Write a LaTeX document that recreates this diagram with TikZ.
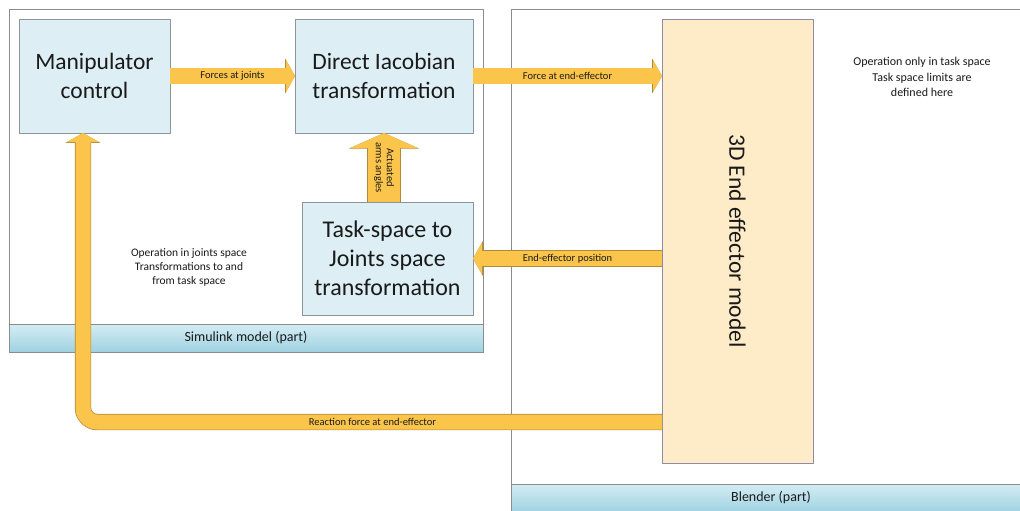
\documentclass[tikz,border=0pt]{standalone}
\usepackage{fontspec}
\setmainfont{Carlito}
\usepackage{graphicx}
\usetikzlibrary{arrows.meta}
\definecolor{mpInk}{HTML}{1A1A1A}
\definecolor{mpFrame}{HTML}{8C8C8C}
\definecolor{mpBoxFill}{HTML}{DDEFF5}
\definecolor{mpBoxLine}{HTML}{8C9599}
\definecolor{mpModelFill}{HTML}{FEECC9}
\definecolor{mpModelLine}{HTML}{8F8AA6}
\definecolor{mpArrow}{HTML}{FBC54C}
\definecolor{mpArrowEdge}{HTML}{B08A3A}
\definecolor{mpBarTop}{HTML}{D4EDF5}
\definecolor{mpBarBottom}{HTML}{9FD1E1}
\tikzset{
  mp diagram/.style={x=1pt, y=-1pt, text=mpInk, line join=round},
  mp frame/.style={draw=mpFrame, fill=white, line width=0.8pt,
    inner sep=0pt, outer sep=0pt},
  mp bar/.style={draw=mpFrame, line width=0.8pt, top color=mpBarTop,
    bottom color=mpBarBottom, inner sep=0pt, outer sep=0pt,
    font=\fontsize{14}{16}\selectfont},
  mp box/.style={draw=mpBoxLine, fill=mpBoxFill, line width=0.8pt,
    align=center, inner sep=0pt, outer sep=0pt,
    font=\fontsize{23.5}{29}\selectfont},
  mp model box/.style={mp box, draw=mpModelLine, fill=mpModelFill},
  mp arrow/.style={draw=mpArrow, line width=15pt,
    -{Triangle[length=0pt 0.6, width=0pt 2.1]},
    preaction={draw=mpArrowEdge, line width=16.4pt,
      -{Triangle[length=0pt 0.6, width=0pt 2.1]}}},
  mp wide arrow/.style={draw=mpArrow, line width=32pt,
    -{Triangle[length=0pt 0.47, width=0pt 2.1]},
    preaction={draw=mpArrowEdge, line width=33.4pt,
      -{Triangle[length=0pt 0.47, width=0pt 2.1]}}},
  mp arrow label/.style={font=\fontsize{10.5}{11}\selectfont, inner sep=0pt},
  mp note/.style={align=center, font=\fontsize{11.5}{14}\selectfont}
}
\begin{document}
\begin{tikzpicture}[mp diagram]
\clip (0,0) rectangle (1020,511);
% frames of the two programs
\node[mp frame,minimum width=474pt,minimum height=343pt] (simulink) at (246,180.5) {};
\node[mp frame,minimum width=520pt,minimum height=512pt] (blender) at (771,265) {};
\node[mp bar,minimum width=474pt,minimum height=28pt] (simbar) at (246,338) {Simulink model (part)};
\node[mp bar,minimum width=520pt,minimum height=28pt] (blendbar) at (771,498) {Blender (part)};
% blocks
\node[mp box,minimum width=151pt,minimum height=114pt] (manip) at (94.5,76) {Manipulator\\control};
\node[mp box,minimum width=178pt,minimum height=114pt] (jacob) at (384,76) {Direct Iacobian\\transformation};
\node[mp box,minimum width=171pt,minimum height=113pt,font=\fontsize{24}{29}\selectfont] (tasktf) at (387.5,258.5) {Task-space to\\Joints space\\transformation};
\node[mp model box,minimum width=151pt,minimum height=444pt] (model) at (737.5,241) {\rotatebox{-90}{3D End effector model}};
% signals
\draw[mp arrow] (manip) -- node[mp arrow label] {Forces at joints} (jacob);
\draw[mp arrow] (jacob) -- node[mp arrow label] {Force at end-effector} (jacob -| model.west);
\draw[mp arrow] (model.west |- tasktf) -- node[mp arrow label] {End-effector position} (tasktf);
\draw[mp wide arrow] (jacob.south |- tasktf.north) -- node[mp arrow label,rotate=-90,align=center] {Actuated\\arms angles} (jacob.south);
\coordinate (bend) at (83,422);
\draw[mp arrow,rounded corners=14pt] (bend -| model.west) -- node[mp arrow label] {Reaction force at end-effector} (bend) -- (bend |- manip.south);
% notes
\node[mp note] (jointnote) at (189,267) {Operation in joints space\\Transformations to and\\from task space};
\node[mp note,font=\fontsize{12}{15.5}\selectfont] (tasknote) at (922,77) {Operation only in task space\\Task space limits are\\defined here};
\end{tikzpicture}
\end{document}
